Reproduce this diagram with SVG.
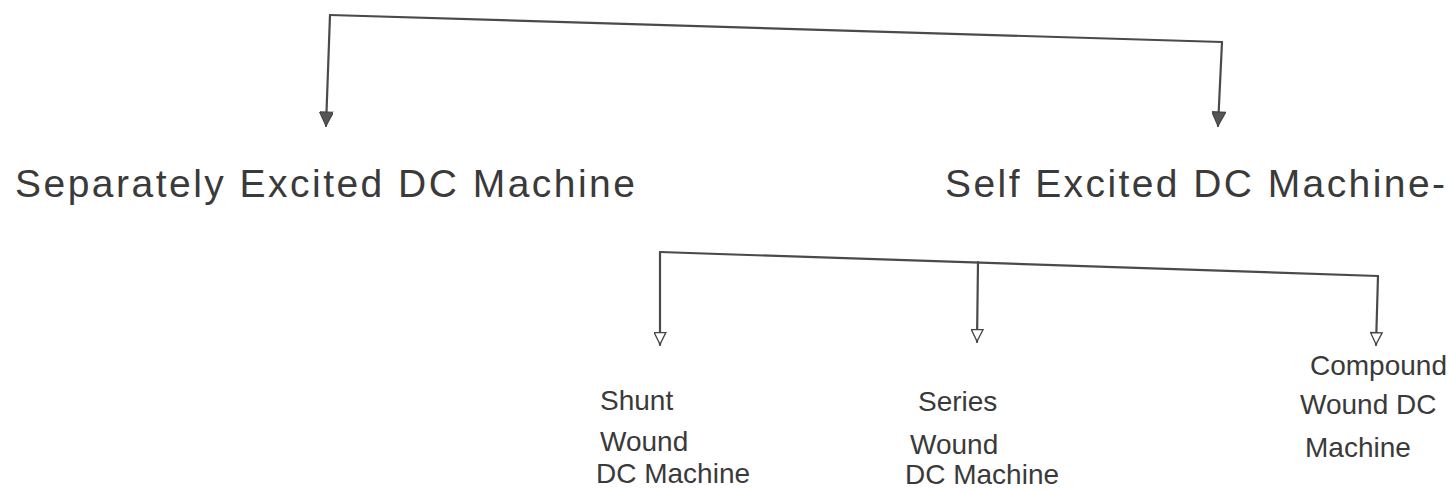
<svg xmlns="http://www.w3.org/2000/svg" width="1449" height="491" viewBox="0 0 1449 491">
<style>
.t{font-family:"Liberation Sans","DejaVu Sans",sans-serif;fill:#3a3a3a;font-weight:normal}
.big{font-size:39px}
.sm{font-size:28px}
.ln{stroke:#4a4a4a;stroke-width:2.2;fill:none;stroke-linecap:round}
</style>
<defs>
<marker id="fa" viewBox="0 0 10 10" refX="10" refY="5" markerWidth="22" markerHeight="14" orient="auto" markerUnits="userSpaceOnUse">
<path d="M0,0 L10,5 L0,10 Z" fill="#555" stroke="#444" stroke-width="0.8"/>
</marker>
<marker id="oa" viewBox="0 0 10 10" refX="10" refY="5" markerWidth="22" markerHeight="13" orient="auto" markerUnits="userSpaceOnUse">
<path d="M0.5,0.5 L9.5,5 L0.5,9.5 Z" fill="#fff" stroke="#444" stroke-width="1"/>
</marker>
</defs>
<rect width="1449" height="491" fill="#fff"/>
<g id="connectors">
<path class="ln" d="M330,15 L1222,42"/>
<path class="ln" d="M330,15 L326,126" marker-end="url(#fa)"/>
<path class="ln" d="M1222,42 L1218,126" marker-end="url(#fa)"/>
<path class="ln" d="M660,252 L1378,276"/>
<path class="ln" d="M660,252 L660,345" marker-end="url(#oa)"/>
<path class="ln" d="M978,262 L977,342" marker-end="url(#oa)"/>
<path class="ln" d="M1378,276 L1376,345" marker-end="url(#oa)"/>
</g>
<g id="separately">
<text class="t big" x="15" y="197" textLength="620" lengthAdjust="spacing">Separately Excited DC Machine</text>
</g>
<g id="self">
<text class="t big" x="945" y="197" textLength="500" lengthAdjust="spacing">Self Excited DC Machine-</text>
</g>
<g id="shunt">
<text class="t sm" x="600" y="410">Shunt</text>
<text class="t sm" x="600" y="451">Wound</text>
<text class="t sm" x="596" y="483">DC Machine</text>
</g>
<g id="series">
<text class="t sm" x="918" y="411">Series</text>
<text class="t sm" x="910" y="454">Wound</text>
<text class="t sm" x="905" y="484">DC Machine</text>
</g>
<g id="compound">
<text class="t sm" x="1310" y="375">Compound</text>
<text class="t sm" x="1300" y="414">Wound DC</text>
<text class="t sm" x="1305" y="457">Machine</text>
</g>
</svg>
